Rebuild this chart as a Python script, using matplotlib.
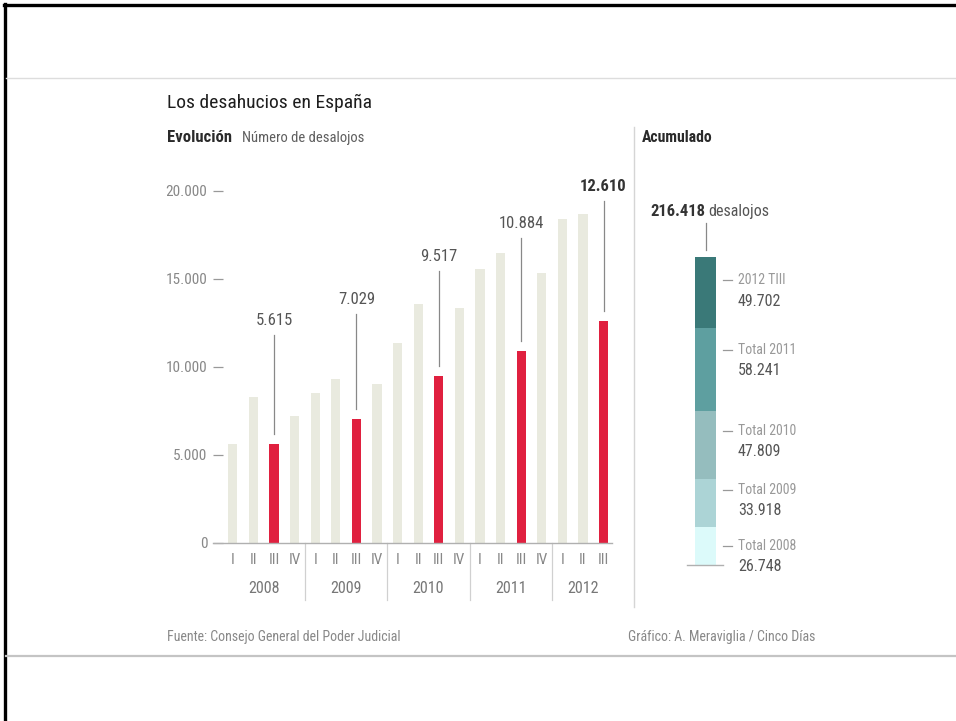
import matplotlib
matplotlib.use('Agg')
import matplotlib.pyplot as plt
from matplotlib.lines import Line2D
import matplotlib.transforms as mtransforms

FONT = ['Roboto Condensed', 'Archivo Narrow', 'DejaVu Sans']
plt.rcParams['font.family'] = FONT

# ---------------- data ----------------
years = ['2008', '2009', '2010', '2011', '2012']
quarters = ['I', 'II', 'III', 'IV',
            'I', 'II', 'III', 'IV',
            'I', 'II', 'III', 'IV',
            'I', 'II', 'III', 'IV',
            'I', 'II', 'III']
values = [5600, 8300, 5615, 7233,
          8540, 9340, 7029, 9009,
          11370, 13580, 9517, 13342,
          15560, 16460, 10884, 15337,
          18420, 18672, 12610]
highlight = [2, 6, 10, 14, 18]          # third quarters (red)

cum_labels = ['Total 2008', 'Total 2009', 'Total 2010', 'Total 2011', '2012 TIII']
cum_values = [26748, 33918, 47809, 58241, 49702]
cum_total = 216418

# ---------------- style / layout ----------------
W, H = 956, 721
GREY_BAR = '#e9eadf'
RED = '#e0203f'
cum_colors = ['#dcfafa', '#acd4d6', '#95bdbe', '#5e9fa0', '#3a7978']
label_y = [12670, 13860, 16300, 18180, 20280]       # annotation heights
cum_label_off = [19, 11, 20, 22, 23]                 # px below segment top

def fmt(v):
    return f"{v:,}".replace(',', '.')

def fy(y):
    return 1 - y / H

fig = plt.figure(figsize=(W / 100, H / 100), dpi=100)
fig.patch.set_facecolor('white')

# frame lines (screenshot look)
fig.add_artist(Line2D([4 / W, 1], [fy(5), fy(5)], color='black', lw=2.4))
fig.add_artist(Line2D([5 / W, 5 / W], [fy(4), 0], color='black', lw=2.4))
fig.add_artist(Line2D([6 / W, 1], [fy(78), fy(78)], color='#dddddd', lw=1.0))
fig.add_artist(Line2D([6 / W, 1], [fy(655.5), fy(655.5)], color='#c4c4c4', lw=1.6))
fig.add_artist(Line2D([634 / W, 634 / W], [fy(127), fy(607)], color='#d5d5d5', lw=1.0))

# titles
fig.text(167 / W, fy(103), 'Los desahucios en España', fontsize=14,
         color='#1e1e1e', va='center', ha='left')
fig.text(167 / W, fy(138), 'Evolución', fontsize=12, fontweight='bold', color='#2a2a2a',
         va='center', ha='left')
fig.text(242 / W, fy(138), 'Número de desalojos', fontsize=10.5, color='#5e5e5e',
         va='center', ha='left')
fig.text(642 / W, fy(138), 'Acumulado', fontsize=11.3, fontweight='bold', color='#2a2a2a',
         va='center', ha='left')
fig.text(167 / W, fy(637), 'Fuente: Consejo General del Poder Judicial', fontsize=10,
         color='#888888', va='center', ha='left')
fig.text(815 / W, fy(637), 'Gráfico: A. Meraviglia / Cinco Días', fontsize=10,
         color='#888888', va='center', ha='right')

# ---------------- main bar chart ----------------
ax = fig.add_axes([213 / W, fy(543), (612 - 213) / W, 352 / H])
x = list(range(len(values)))
colors = [RED if i in highlight else GREY_BAR for i in x]
ax.bar(x, values, width=0.45, color=colors, zorder=2)
ax.set_xlim(-0.96, 18.41)
ax.set_ylim(0, 20000)
for s in ['top', 'right', 'left']:
    ax.spines[s].set_visible(False)
ax.spines['bottom'].set_color('#b0b0b0')
ax.spines['bottom'].set_linewidth(1.0)
ax.set_yticks([0, 5000, 10000, 15000, 20000])
ax.set_yticklabels([fmt(v) for v in [0, 5000, 10000, 15000, 20000]])
ax.tick_params(axis='y', direction='in', length=7, width=0.9, color='#999999',
               labelcolor='#888888', labelsize=11, pad=4)
ax.set_xticks([])

trans = mtransforms.blended_transform_factory(ax.transData, ax.transAxes)
for i, q in enumerate(quarters):
    ax.text(i, -0.048, q, transform=trans, ha='center', va='center',
            fontsize=11, color='#888888')
for k, yr in enumerate(years):
    start = 4 * k
    end = min(4 * k + 3, len(values) - 1)
    ax.text((start + end) / 2, -0.128, yr, transform=trans, ha='center', va='center',
            fontsize=11.5, color='#777777')
    if k > 0:
        ax.plot([start - 0.5, start - 0.5], [0, -0.162], transform=trans,
                color='#d0d0d0', lw=0.9, clip_on=False)

px_per_unit = 352 / 20000
for n, i in enumerate(highlight):
    last = (n == len(highlight) - 1)
    ax.text(i, label_y[n], fmt(values[i]), ha='center', va='center',
            fontsize=12, color='#333333' if last else '#555555',
            fontweight='bold' if last else 'normal', clip_on=False)
    ax.plot([i, i], [label_y[n] - 15 / px_per_unit, values[i] + 10 / px_per_unit],
            color='#888888', lw=0.9, clip_on=False)

# ---------------- cumulative stacked bar ----------------
ax2 = fig.add_axes([660 / W, fy(565), 100 / W, 308 / H])
ax2.set_xlim(0, 100)
ax2.set_ylim(0, cum_total)
ax2.axis('off')
upp = cum_total / 308   # units per pixel
bottom = 0
for lab, v, c, off in zip(cum_labels, cum_values, cum_colors, cum_label_off):
    ax2.bar(45.5, v, width=21, bottom=bottom, color=c, zorder=2)
    top = bottom + v
    yl = top - off * upp
    ax2.plot([63, 72], [yl, yl], color='#999999', lw=0.9, clip_on=False)
    ax2.text(78, yl, lab, ha='left', va='center', fontsize=10, color='#999999',
             clip_on=False)
    ax2.text(78, yl - 21 * upp, fmt(v), ha='left', va='center', fontsize=11.5,
             color='#555555', clip_on=False)
    bottom = top
ax2.plot([27, 63], [0, 0], color='#b0b0b0', lw=1.0, clip_on=False, zorder=3)
ax2.plot([45.5, 45.5], [cum_total + 7 * upp, cum_total + 34 * upp], color='#888888',
         lw=0.9, clip_on=False)
ax2.text(45, cum_total + 46 * upp, fmt(cum_total), ha='right', va='center',
         fontsize=12, fontweight='bold', color='#333333', clip_on=False)
ax2.text(48.5, cum_total + 46 * upp, 'desalojos', ha='left', va='center',
         fontsize=11.5, color='#555555', clip_on=False)

fig.savefig('out.png', dpi=100, facecolor='white')
